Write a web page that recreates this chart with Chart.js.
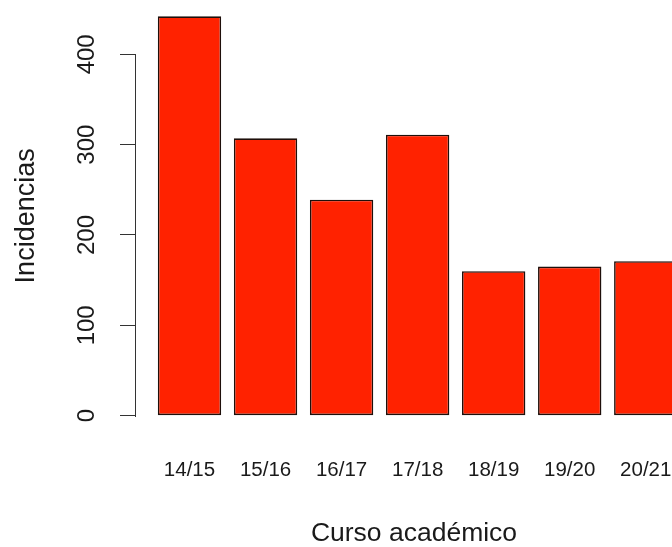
<!DOCTYPE html>
<html>
<head>
<meta charset="utf-8">
<script src="https://cdn.jsdelivr.net/npm/chart.js@4.4.1/dist/chart.umd.min.js"></script>
<style>
html,body{margin:0;padding:0;overflow:hidden;background:#fff;}
canvas{display:block;}
</style>
</head>
<body>
<canvas id="c" width="692" height="547"></canvas>
<script>
// ---- data ----
const categories = ['14/15', '15/16', '16/17', '17/18', '18/19', '19/20', '20/21'];
const incidencias = [442, 307, 239, 311, 160, 165, 171];
const yTicks = [0, 100, 200, 300, 400];
const xTitle = 'Curso académico';
const yTitle = 'Incidencias';

// ---- style ----
const FONT = "'Liberation Sans', Arial, Helvetica, sans-serif";
const TEXT = '#1a1a1a';
const AXIS = '#333333';
const BAR = '#ff2200';
const BAR_EDGE = '#1e0f0a';

// R-style y axis line: only from first to last tick
const axisLine = {
  id: 'axisLine',
  afterDraw(chart) {
    const y = chart.scales.y;
    const ctx = chart.ctx;
    const top = y.getPixelForValue(yTicks[yTicks.length - 1]);
    const bot = y.getPixelForValue(yTicks[0]);
    const x = Math.round(y.right) - 0.5;
    ctx.save();
    ctx.strokeStyle = AXIS;
    ctx.lineWidth = 1;
    ctx.beginPath();
    ctx.moveTo(x, Math.round(top));
    ctx.lineTo(x, Math.round(bot) + 1);
    ctx.stroke();
    ctx.restore();
  }
};

new Chart(document.getElementById('c'), {
  type: 'bar',
  data: {
    datasets: [{
      data: incidencias.map((v, i) => ({ x: i, y: v })),
      backgroundColor: BAR,
      borderColor: BAR_EDGE,
      borderWidth: 1.6,
      borderSkipped: false,
      categoryPercentage: 1,
      barPercentage: 1 / 1.2
    }]
  },
  options: {
    responsive: false,
    animation: false,
    layout: { padding: 0, autoPadding: false },
    plugins: { legend: { display: false }, tooltip: { enabled: false } },
    scales: {
      x: {
        type: 'linear',
        offset: false,
        min: -0.7035,
        max: 6.608,
        afterBuildTicks: s => { s.ticks = categories.map((c, i) => ({ value: i })); },
        afterFit: s => { s.height = 115.3; s.paddingLeft = 0; s.paddingRight = 0; },
        grid: { display: false, drawTicks: false },
        border: { display: false },
        ticks: {
          autoSkip: false,
          maxRotation: 0,
          minRotation: 0,
          padding: 26,
          color: TEXT,
          font: { family: FONT, size: 20.5 },
          callback: v => categories[v] ?? ''
        },
        title: {
          display: true,
          text: xTitle,
          color: TEXT,
          font: { family: FONT, size: 26.5, lineHeight: 1.0 },
          padding: { top: 0, bottom: 0 }
        }
      },
      y: {
        type: 'linear',
        min: -17.71,
        max: 460.1,
        afterBuildTicks: s => { s.ticks = yTicks.map(v => ({ value: v })); },
        afterFit: s => { s.width = 136; s.paddingTop = 0; s.paddingBottom = 0; },
        grid: {
          display: true,
          drawOnChartArea: false,
          drawTicks: true,
          tickLength: 16,
          color: AXIS,
          lineWidth: 1
        },
        border: { display: false },
        ticks: {
          minRotation: 90,
          maxRotation: 90,
          crossAlign: 'center',
          padding: 12.5,
          color: TEXT,
          font: { family: FONT, size: 24 },
          callback: v => String(v)
        },
        title: {
          display: true,
          text: yTitle,
          color: TEXT,
          font: { family: FONT, size: 27 },
          padding: { top: 10, bottom: 0 }
        }
      }
    }
  },
  plugins: [axisLine]
});
</script>
</body>
</html>
